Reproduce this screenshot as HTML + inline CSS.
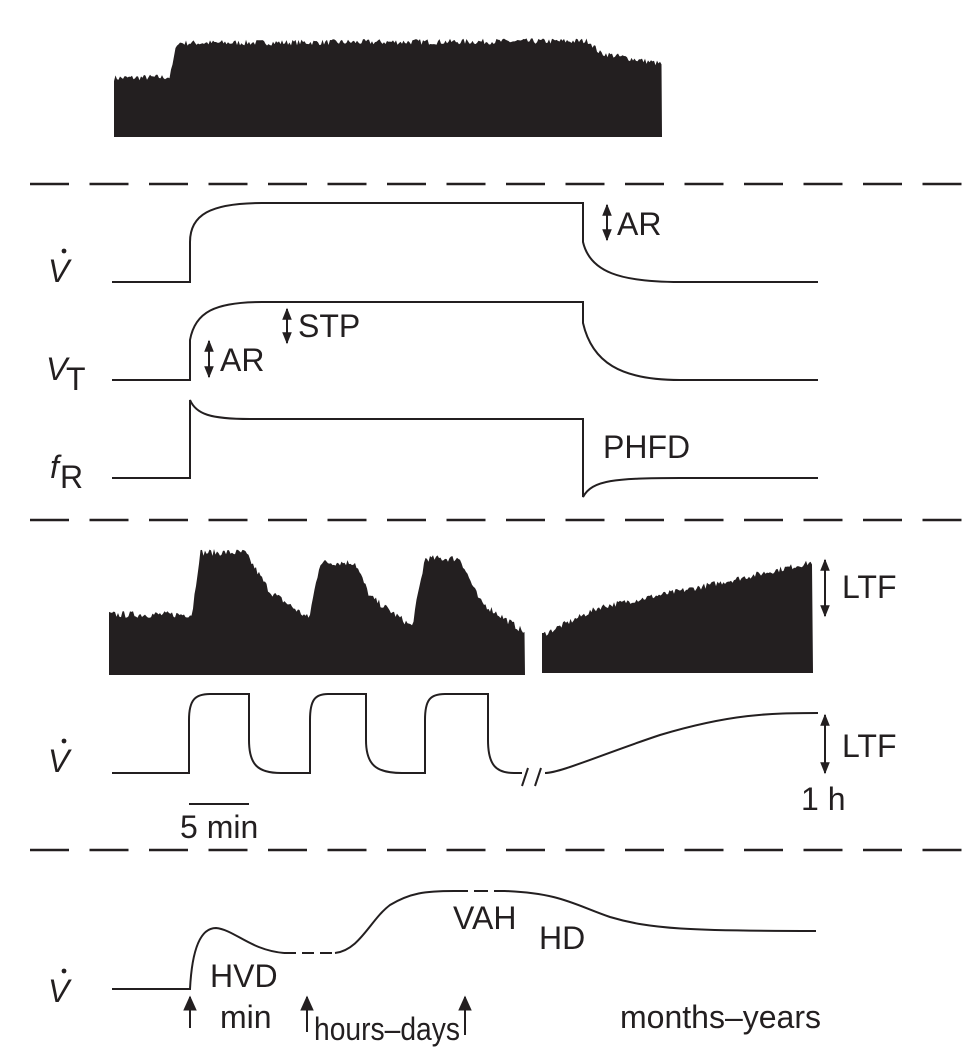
<!DOCTYPE html>
<html><head><meta charset="utf-8"><style>
html,body{margin:0;padding:0;background:#fff;width:971px;height:1059px;overflow:hidden}
svg{display:block}
text{font-family:"Liberation Sans",sans-serif;font-size:32px;fill:#231f20}
.l{fill:none;stroke:#231f20;stroke-width:2}
</style></head><body>
<svg id="s" width="971" height="1059" viewBox="0 0 971 1059" xmlns="http://www.w3.org/2000/svg">
<defs>
<marker id="a" viewBox="0 0 10 10" refX="9" refY="5" markerWidth="7" markerHeight="6" orient="auto-start-reverse"><path d="M0,1 L10,5 L0,9 z" fill="#231f20"/></marker>
<marker id="b" viewBox="0 0 10 10" refX="9" refY="5" markerWidth="8" markerHeight="7.5" orient="auto"><path d="M0,0.5 L10,5 L0,9.5 z" fill="#231f20"/></marker>
</defs>
<g id="blk" fill="#231f20"></g>
<line x1="30" y1="184" x2="971" y2="184" stroke="#231f20" stroke-width="2.5" stroke-dasharray="39 20.5"/>
<line x1="30" y1="520" x2="971" y2="520" stroke="#231f20" stroke-width="2.5" stroke-dasharray="39 20.5"/>
<line x1="30" y1="850" x2="971" y2="850" stroke="#231f20" stroke-width="2.5" stroke-dasharray="39 20.5"/>

<path class="l" d="M112,282 H190 V242 C190,215 210,203 262,203 H583 V242 C590,272 620,282 680,282 H818"/>
<path class="l" d="M112,380 H190 V340 C195,312 215,302 262,302 H583 V323 C592,362 620,380 680,380 H818"/>
<path class="l" d="M112,478 H190 V400 C196,414 210,419 250,419 H583 V497 C592,480 615,478 680,478 H818"/>
<line class="l" x1="607" y1="205" x2="607" y2="240" marker-start="url(#a)" marker-end="url(#a)"/>
<line class="l" x1="287" y1="309" x2="287" y2="343" marker-start="url(#a)" marker-end="url(#a)"/>
<line class="l" x1="209" y1="341" x2="209" y2="377" marker-start="url(#a)" marker-end="url(#a)"/>
<text x="617" y="235">AR</text>
<text x="298" y="337">STP</text>
<text x="220" y="371">AR</text>
<text x="603" y="458">PHFD</text>
<text x="48" y="282" font-style="italic">V</text><circle cx="64" cy="251" r="2.4" fill="#231f20"/>
<text x="46" y="380" font-style="italic">V</text><text x="66" y="390" font-size="24">T</text>
<text x="50" y="478" font-style="italic">f</text><text x="60" y="488" font-size="24">R</text>

<line class="l" x1="825" y1="560" x2="825" y2="616" marker-start="url(#a)" marker-end="url(#a)"/>
<text x="842" y="598">LTF</text>
<path class="l" d="M112,773 H189 V720 C189,700 195,694 210,694 H249 V740 C249,765 258,773 281,773 H310 V720 C310,700 315,694 328,694 H366 V740 C366,765 376,773 402,773 H425 V720 C425,700 430,694 445,694 H488 V740 C488,765 496,773 514,773 H522"/>
<line class="l" x1="522" y1="786" x2="528" y2="768"/><line class="l" x1="535" y1="786" x2="541" y2="768"/>
<path class="l" d="M545,773 C560,773 600,755 660,735 C730,714 770,713 818,713"/>
<line class="l" x1="825" y1="715" x2="825" y2="773" marker-start="url(#a)" marker-end="url(#a)"/>
<text x="842" y="757">LTF</text>
<text x="801" y="810">1 h</text>
<line class="l" x1="189" y1="804" x2="249" y2="804"/>
<text x="180" y="838">5 min</text>
<text x="48" y="772" font-style="italic">V</text><circle cx="64" cy="741" r="2.4" fill="#231f20"/>

<path class="l" d="M112,989 H190 C192,950 200,928 216,928 C235,930 250,950 284,953"/>
<path class="l" d="M284,953 H335" stroke-dasharray="12 6"/>
<path class="l" d="M335,953 C360,950 370,920 390,905 C410,893 425,891 454,891"/>
<path class="l" d="M454,891 H505" stroke-dasharray="14 6"/>
<path class="l" d="M505,891 C560,893 575,905 610,917 C650,929 690,931 816,931"/>
<text x="210" y="987">HVD</text>
<text x="453" y="929">VAH</text>
<text x="539" y="949">HD</text>
<text x="220" y="1028">min</text>
<text x="314" y="1040" font-size="26" textLength="146" lengthAdjust="spacingAndGlyphs">hours–days</text>
<text x="620" y="1028">months–years</text>
<line class="l" x1="190" y1="1028" x2="190" y2="997" marker-end="url(#b)"/>
<line class="l" x1="307" y1="1032" x2="307" y2="997" marker-end="url(#b)"/>
<line class="l" x1="465" y1="1035" x2="465" y2="997" marker-end="url(#b)"/>
<text x="48" y="1002" font-style="italic">V</text><circle cx="64" cy="971" r="2.4" fill="#231f20"/>
</svg>
<script>
(function(){
var seed=7;function r(){seed=(seed*16807)%2147483647;return seed/2147483647;}
function blob(pts,x0,x1,bottom,amp){
 function f(x){for(var i=0;i<pts.length-1;i++){if(x>=pts[i][0]&&x<=pts[i+1][0]){var t=(x-pts[i][0])/(pts[i+1][0]-pts[i][0]);return pts[i][1]+t*(pts[i+1][1]-pts[i][1]);}}return pts[pts.length-1][1];}
 var d="M"+x0+","+bottom;
 for(var x=x0;x<=x1;x+=1.5){d+=" L"+x.toFixed(1)+","+(f(x)-r()*amp).toFixed(1);}
 d+=" L"+x1+","+bottom+" Z";
 var p=document.createElementNS("http://www.w3.org/2000/svg","path");p.setAttribute("d",d);
 document.getElementById("blk").appendChild(p);
}
blob([[114,81],[170,80],[177,46],[589,44],[600,56],[662,67]],114,662,137,6);
blob([[109,618],[192,618],[200,556],[245,556],[270,595],[309,622],[320,566],[355,566],[370,600],[412,630],[425,562],[460,562],[480,605],[525,636]],109,525,675,7);
blob([[542,638],[600,610],[700,590],[813,565]],542,813,673,6);
})();
</script>
</body></html>
